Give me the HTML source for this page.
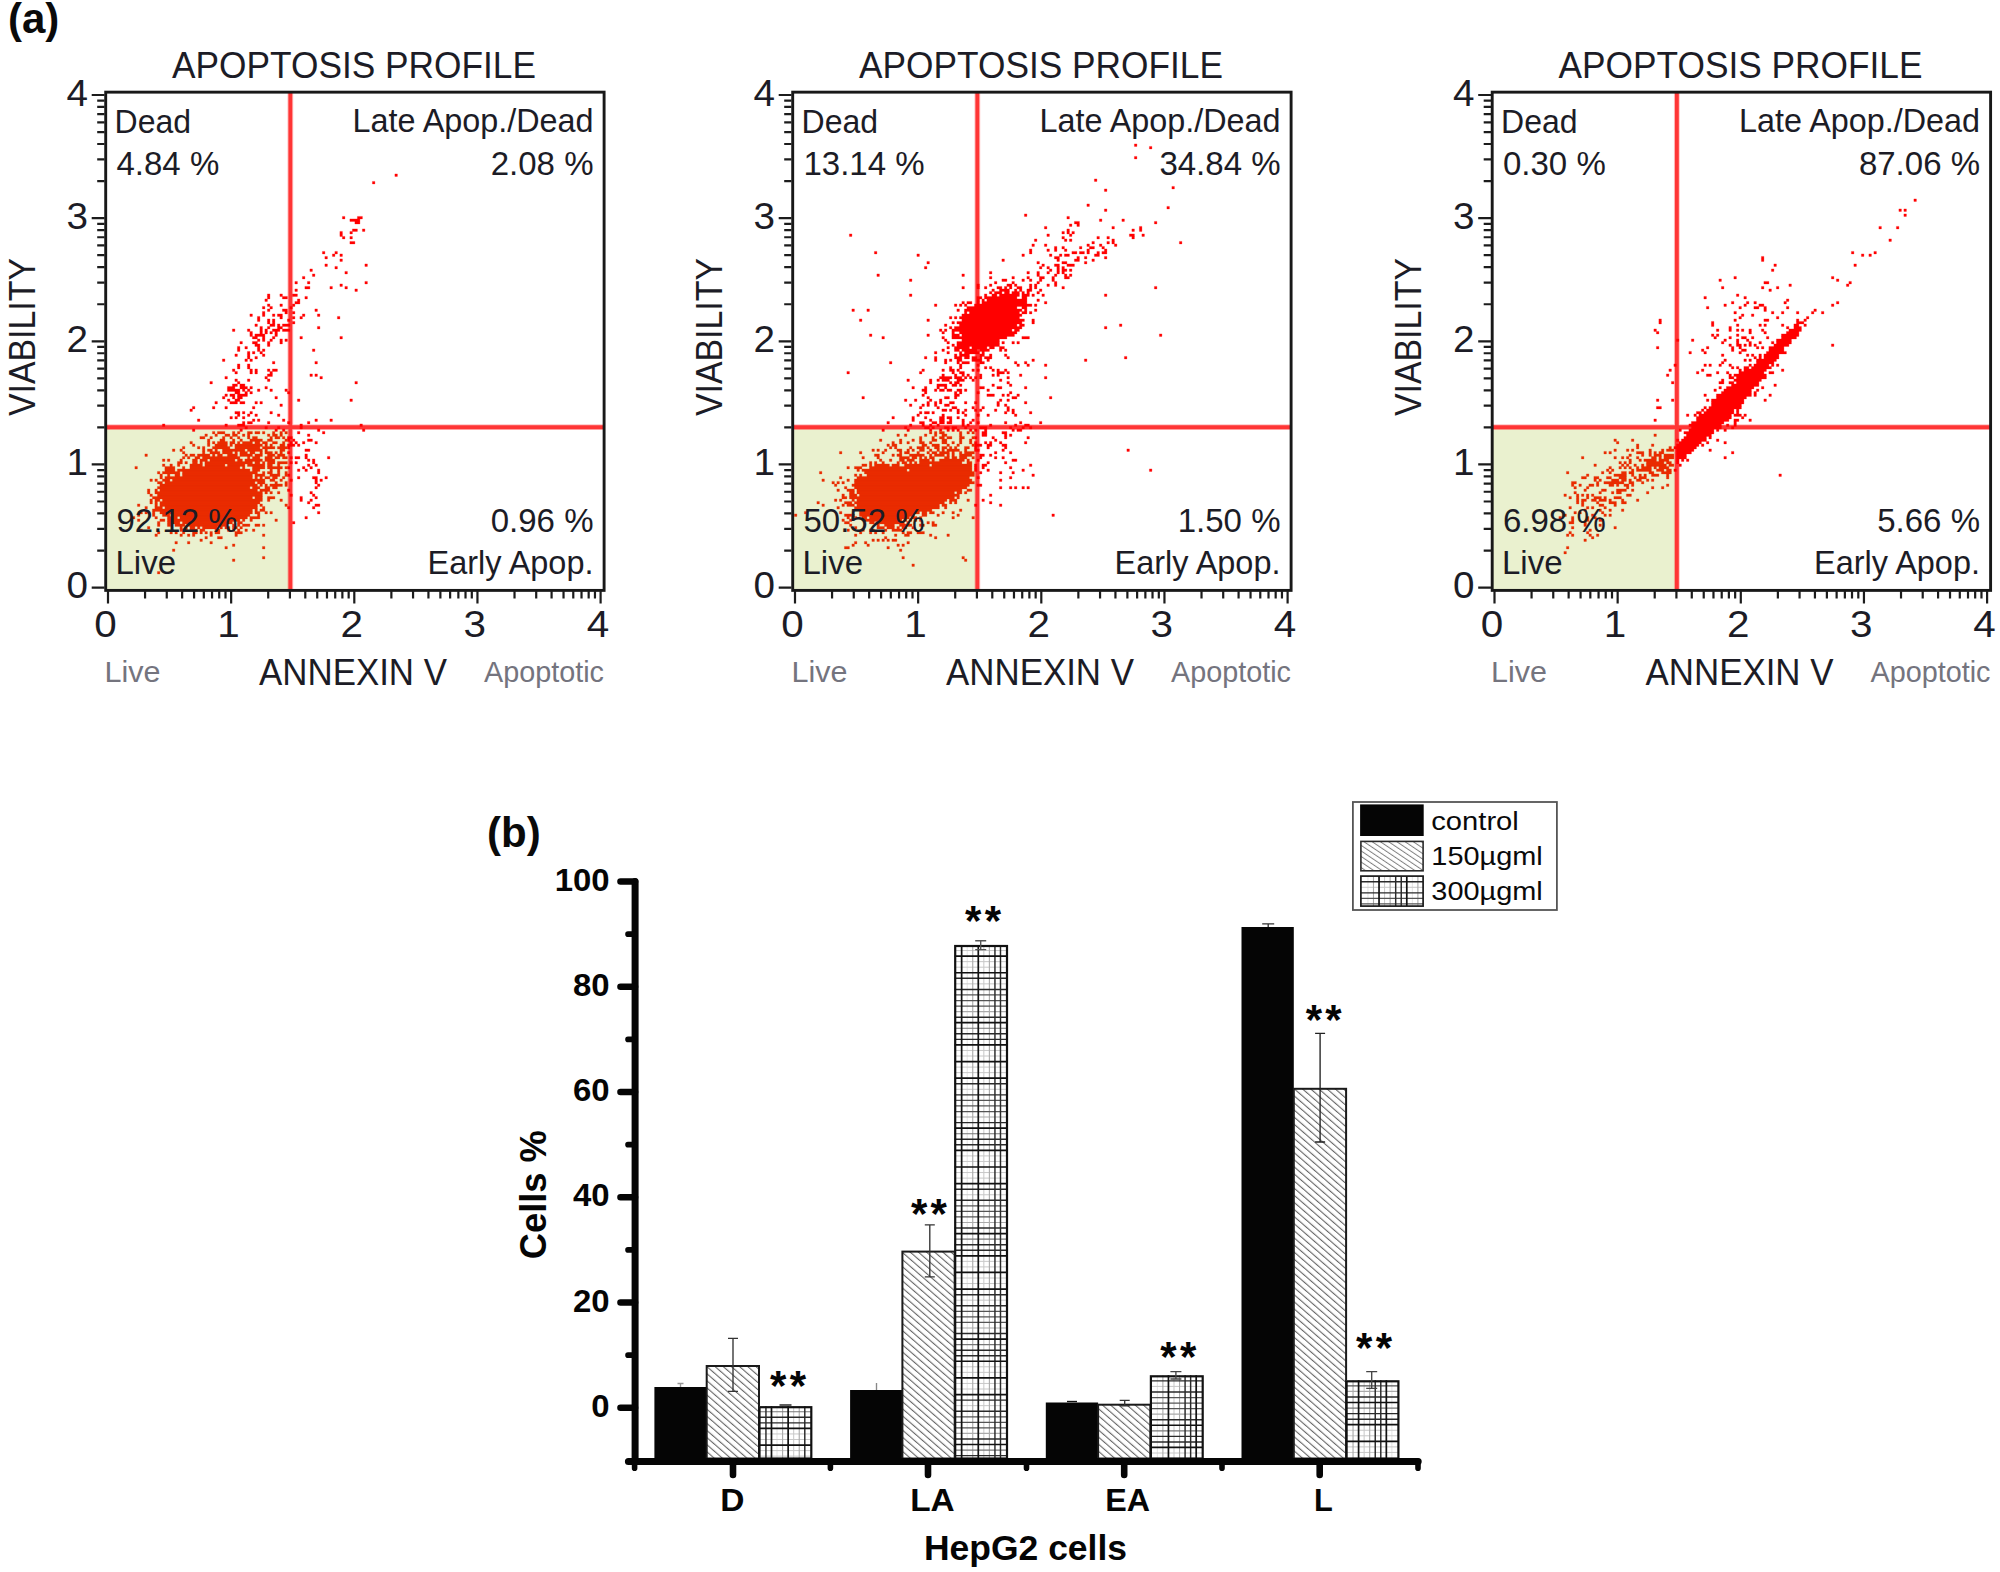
<!DOCTYPE html>
<html lang="en"><head><meta charset="utf-8"><title>Apoptosis profile of HepG2 cells</title>
<style>html,body{margin:0;padding:0;background:#fff}body{width:2000px;height:1572px;overflow:hidden}svg{display:block;font-family:'Liberation Sans', sans-serif}text{white-space:pre}</style></head><body>
<svg width="2000" height="1572" viewBox="0 0 2000 1572">
<rect width="2000" height="1572" fill="#fff"/>
<defs>
<pattern id="hat" width="5.36" height="40" patternUnits="userSpaceOnUse" patternTransform="rotate(-49)"><rect width="5.36" height="40" fill="#fff"/><rect x="0" width="1.1" height="40" fill="#666"/></pattern>
<pattern id="hatL" width="4.6" height="40" patternUnits="userSpaceOnUse" patternTransform="rotate(-56)"><rect width="4.6" height="40" fill="#fff"/><rect x="0" width="1.0" height="40" fill="#808080"/></pattern>
</defs>
<text x="8" y="32.8" font-size="42" fill="#0a0a0a" font-weight="bold">(a)</text>
<text x="487" y="847" font-size="42" fill="#0a0a0a" font-weight="bold">(b)</text>
<g transform="translate(0,0)">
<rect x="106" y="427.2" width="184.4" height="162.7" fill="#eaf1cf"/>
<path d="M290.35 93V590M106.5 427.2H603.5" stroke="#ff3535" stroke-width="5.8" stroke-opacity="0.3" fill="none"/>
<path d="M290.35 93V590M106.5 427.2H603.5" stroke="#ff3535" stroke-width="3.9" fill="none"/>
<path transform="translate(107.4,93.9) scale(2.5)" fill="#ff0000" stroke="#ff0000" stroke-width="0.12" stroke-linejoin="round" d="M115 32h1v1h-1zM106 35h1v1h-1zM94 49h1v1h-1zM100 49h2v1h-2zM97 50h4v1h-4zM99 51h2v1h-2zM98 54h2v1h-2zM102 54h1v1h-1zM93 55h1v1h-1zM97 55h1v1h-1zM93 56h1v1h-1zM94 57h1v1h-1zM97 57h1v1h-1zM97 59h2v1h-2zM86 63h1v1h-1zM91 63h1v1h-1zM90 64h1v1h-1zM93 64h1v1h-1zM87 65h1v1h-1zM93 66h1v1h-1zM87 68h1v1h-1zM103 68h1v1h-1zM91 69h1v1h-1zM81 70h1v1h-1zM95 71h1v1h-1zM82 72h1v1h-1zM78 73h1v1h-1zM75 75h1v1h-1zM80 75h1v1h-1zM103 75h1v1h-1zM93 76h1v1h-1zM79 77h2v1h-2zM89 77h1v1h-1zM95 77h1v1h-1zM75 78h1v1h-1zM99 78h1v1h-1zM64 80h1v1h-1zM69 80h1v1h-1zM74 80h2v1h-2zM64 81h1v1h-1zM70 81h2v1h-2zM79 81h1v1h-1zM63 82h1v1h-1zM76 82h1v1h-1zM75 83h2v1h-2zM64 84h1v1h-1zM69 84h1v1h-1zM74 84h1v1h-1zM62 85h1v1h-1zM65 85h1v1h-1zM73 85h1v1h-1zM64 86h1v1h-1zM70 86h2v1h-2zM83 86h1v1h-1zM62 87h1v1h-1zM71 87h1v1h-1zM74 87h1v1h-1zM57 88h1v1h-1zM62 88h1v1h-1zM66 88h1v1h-1zM68 88h2v1h-2zM78 88h1v1h-1zM84 88h1v1h-1zM60 89h1v1h-1zM69 89h1v1h-1zM74 89h1v1h-1zM77 89h1v1h-1zM92 89h1v1h-1zM60 90h1v1h-1zM64 90h1v1h-1zM66 90h1v1h-1zM72 90h1v1h-1zM64 91h1v1h-1zM66 91h1v1h-1zM74 91h1v1h-1zM59 92h1v1h-1zM65 92h2v1h-2zM68 92h1v1h-1zM70 92h3v1h-3zM61 93h1v1h-1zM64 93h1v1h-1zM68 93h2v1h-2zM84 93h1v1h-1zM50 94h1v1h-1zM56 94h1v1h-1zM61 94h1v1h-1zM63 94h1v1h-1zM66 94h3v1h-3zM70 94h3v1h-3zM57 95h1v1h-1zM61 95h1v1h-1zM63 95h1v1h-1zM65 95h1v1h-1zM67 95h1v1h-1zM57 96h1v1h-1zM59 96h4v1h-4zM67 96h1v1h-1zM58 97h2v1h-2zM62 97h1v1h-1zM66 97h1v1h-1zM77 97h1v1h-1zM93 97h1v1h-1zM60 98h1v1h-1zM62 98h1v1h-1zM65 98h1v1h-1zM69 98h1v1h-1zM71 98h1v1h-1zM53 99h1v1h-1zM58 99h2v1h-2zM64 99h1v1h-1zM69 99h1v1h-1zM59 100h2v1h-2zM64 100h1v1h-1zM52 101h1v1h-1zM55 101h1v1h-1zM60 101h1v1h-1zM52 102h1v1h-1zM60 102h1v1h-1zM62 102h1v1h-1zM82 102h1v1h-1zM56 103h1v1h-1zM58 103h1v1h-1zM61 103h1v1h-1zM51 104h1v1h-1zM56 104h1v1h-1zM62 104h1v1h-1zM56 105h1v1h-1zM59 105h1v1h-1zM46 106h1v1h-1zM55 106h1v1h-1zM57 106h1v1h-1zM66 107h1v1h-1zM83 107h1v1h-1zM52 108h1v1h-1zM56 108h1v1h-1zM52 109h1v1h-1zM56 109h1v1h-1zM50 110h1v1h-1zM57 110h1v1h-1zM59 110h1v1h-1zM64 110h1v1h-1zM66 110h2v1h-2zM51 111h1v1h-1zM57 111h1v1h-1zM59 111h1v1h-1zM65 111h1v1h-1zM64 112h2v1h-2zM81 112h1v1h-1zM83 112h1v1h-1zM47 113h1v1h-1zM63 113h1v1h-1zM85 113h1v1h-1zM51 114h1v1h-1zM56 114h1v1h-1zM64 114h1v1h-1zM41 115h1v1h-1zM52 115h1v1h-1zM99 115h1v1h-1zM50 116h2v1h-2zM53 116h2v1h-2zM48 117h3v1h-3zM53 117h3v1h-3zM57 117h1v1h-1zM63 117h1v1h-1zM48 118h5v1h-5zM54 118h1v1h-1zM56 118h1v1h-1zM60 118h1v1h-1zM65 118h1v1h-1zM71 118h1v1h-1zM51 119h2v1h-2zM55 119h1v1h-1zM57 119h1v1h-1zM72 119h1v1h-1zM47 120h1v1h-1zM49 120h2v1h-2zM52 120h4v1h-4zM46 121h1v1h-1zM50 121h1v1h-1zM52 121h2v1h-2zM67 121h1v1h-1zM48 122h1v1h-1zM51 122h2v1h-2zM76 122h1v1h-1zM97 122h1v1h-1zM43 123h1v1h-1zM49 123h3v1h-3zM53 123h2v1h-2zM59 123h1v1h-1zM61 123h1v1h-1zM69 124h1v1h-1zM34 125h1v1h-1zM42 125h1v1h-1zM47 125h1v1h-1zM58 125h1v1h-1zM33 126h1v1h-1zM51 127h2v1h-2zM54 127h1v1h-1zM57 127h1v1h-1zM65 127h1v1h-1zM52 128h1v1h-1zM56 128h1v1h-1zM59 128h1v1h-1zM68 128h1v1h-1zM49 129h1v1h-1zM51 129h1v1h-1zM54 129h1v1h-1zM36 130h1v1h-1zM58 130h1v1h-1zM60 130h1v1h-1zM70 130h1v1h-1zM83 130h1v1h-1zM89 130h1v1h-1zM54 131h1v1h-1zM56 131h2v1h-2zM64 131h1v1h-1zM72 131h1v1h-1zM80 131h1v1h-1zM22 132h1v1h-1zM47 132h1v1h-1zM52 132h3v1h-3zM77 132h1v1h-1zM101 132h1v1h-1zM55 133h1v1h-1zM63 133h1v1h-1zM68 133h1v1h-1zM77 133h1v1h-1zM34 134h1v1h-1zM53 134h1v1h-1zM67 134h1v1h-1zM70 134h1v1h-1zM84 134h1v1h-1zM102 134h1v1h-1zM76 135h1v1h-1zM86 135h1v1h-1zM80 136h1v1h-1zM72 137h2v1h-2zM72 138h1v1h-1zM74 138h1v1h-1zM80 138h2v1h-2zM73 139h1v1h-1zM75 139h1v1h-1zM78 139h1v1h-1zM83 139h1v1h-1zM72 140h3v1h-3zM76 140h1v1h-1zM72 141h1v1h-1zM79 142h2v1h-2zM72 143h1v1h-1zM79 144h1v1h-1zM73 145h1v1h-1zM75 145h2v1h-2zM79 145h1v1h-1zM88 145h1v1h-1zM80 146h1v1h-1zM82 146h1v1h-1zM73 147h1v1h-1zM75 147h1v1h-1zM82 147h1v1h-1zM80 148h1v1h-1zM83 148h1v1h-1zM72 149h1v1h-1zM78 149h1v1h-1zM81 149h1v1h-1zM76 150h1v1h-1zM79 150h1v1h-1zM84 150h1v1h-1zM84 151h1v1h-1zM72 152h1v1h-1zM76 153h1v1h-1zM82 153h2v1h-2zM87 153h1v1h-1zM73 154h1v1h-1zM83 154h1v1h-1zM85 154h1v1h-1zM83 155h1v1h-1zM84 156h1v1h-1zM83 157h1v1h-1zM72 158h1v1h-1zM81 159h1v1h-1zM73 160h1v1h-1zM82 160h1v1h-1zM77 161h1v1h-1zM83 161h1v1h-1zM77 162h1v1h-1zM81 162h1v1h-1zM80 163h1v1h-1zM83 164h2v1h-2zM72 165h1v1h-1zM82 165h1v1h-1zM84 167h1v1h-1zM79 169h1v1h-1zM74 171h1v1h-1z"/>
<path transform="translate(107.4,93.9) scale(2.5)" fill="#e92c00" stroke="#e92c00" stroke-width="0.12" stroke-linejoin="round" d="M42 135h1v1h-1zM44 135h3v1h-3zM50 135h1v1h-1zM52 135h1v1h-1zM56 135h2v1h-2zM59 135h2v1h-2zM62 135h1v1h-1zM66 135h1v1h-1zM69 135h1v1h-1zM71 135h1v1h-1zM39 136h1v1h-1zM43 136h1v1h-1zM47 136h2v1h-2zM50 136h2v1h-2zM54 136h1v1h-1zM56 136h1v1h-1zM64 136h1v1h-1zM66 136h2v1h-2zM69 136h1v1h-1zM37 137h2v1h-2zM41 137h1v1h-1zM46 137h1v1h-1zM49 137h1v1h-1zM52 137h1v1h-1zM56 137h1v1h-1zM58 137h2v1h-2zM65 137h1v1h-1zM67 137h2v1h-2zM70 137h1v1h-1zM40 138h1v1h-1zM45 138h2v1h-2zM50 138h1v1h-1zM53 138h1v1h-1zM57 138h5v1h-5zM64 138h2v1h-2zM71 138h1v1h-1zM33 139h1v1h-1zM40 139h1v1h-1zM42 139h1v1h-1zM44 139h4v1h-4zM49 139h2v1h-2zM52 139h1v1h-1zM54 139h4v1h-4zM59 139h2v1h-2zM62 139h2v1h-2zM66 139h2v1h-2zM70 139h1v1h-1zM34 140h1v1h-1zM40 140h1v1h-1zM43 140h5v1h-5zM49 140h1v1h-1zM51 140h11v1h-11zM63 140h1v1h-1zM65 140h1v1h-1zM69 140h2v1h-2zM30 141h1v1h-1zM36 141h1v1h-1zM38 141h1v1h-1zM42 141h7v1h-7zM51 141h10v1h-10zM62 141h5v1h-5zM68 141h4v1h-4zM26 142h1v1h-1zM29 142h1v1h-1zM38 142h1v1h-1zM40 142h2v1h-2zM43 142h1v1h-1zM46 142h9v1h-9zM56 142h6v1h-6zM63 142h1v1h-1zM69 142h2v1h-2zM30 143h1v1h-1zM38 143h1v1h-1zM41 143h4v1h-4zM46 143h4v1h-4zM51 143h1v1h-1zM53 143h3v1h-3zM57 143h2v1h-2zM61 143h1v1h-1zM63 143h3v1h-3zM67 143h1v1h-1zM69 143h1v1h-1zM15 144h1v1h-1zM31 144h1v1h-1zM33 144h2v1h-2zM36 144h5v1h-5zM42 144h1v1h-1zM44 144h2v1h-2zM48 144h4v1h-4zM53 144h5v1h-5zM59 144h3v1h-3zM64 144h3v1h-3zM68 144h3v1h-3zM30 145h1v1h-1zM32 145h1v1h-1zM35 145h2v1h-2zM38 145h15v1h-15zM56 145h1v1h-1zM58 145h3v1h-3zM63 145h3v1h-3zM67 145h2v1h-2zM70 145h2v1h-2zM22 146h1v1h-1zM24 146h1v1h-1zM29 146h1v1h-1zM34 146h2v1h-2zM37 146h3v1h-3zM41 146h10v1h-10zM52 146h2v1h-2zM55 146h7v1h-7zM63 146h4v1h-4zM28 147h2v1h-2zM31 147h1v1h-1zM34 147h2v1h-2zM37 147h1v1h-1zM39 147h19v1h-19zM59 147h2v1h-2zM62 147h1v1h-1zM64 147h3v1h-3zM68 147h4v1h-4zM22 148h1v1h-1zM25 148h1v1h-1zM28 148h1v1h-1zM33 148h5v1h-5zM39 148h8v1h-8zM48 148h7v1h-7zM56 148h7v1h-7zM64 148h2v1h-2zM68 148h1v1h-1zM11 149h1v1h-1zM23 149h4v1h-4zM30 149h1v1h-1zM33 149h20v1h-20zM54 149h1v1h-1zM58 149h5v1h-5zM64 149h6v1h-6zM71 149h1v1h-1zM23 150h4v1h-4zM28 150h29v1h-29zM58 150h3v1h-3zM65 150h1v1h-1zM68 150h1v1h-1zM20 151h1v1h-1zM22 151h7v1h-7zM30 151h30v1h-30zM62 151h1v1h-1zM64 151h2v1h-2zM68 151h1v1h-1zM71 151h1v1h-1zM21 152h1v1h-1zM24 152h1v1h-1zM27 152h2v1h-2zM30 152h28v1h-28zM59 152h4v1h-4zM65 152h4v1h-4zM71 152h1v1h-1zM21 153h1v1h-1zM23 153h35v1h-35zM59 153h1v1h-1zM61 153h1v1h-1zM63 153h2v1h-2zM66 153h2v1h-2zM70 153h1v1h-1zM17 154h1v1h-1zM19 154h1v1h-1zM22 154h3v1h-3zM26 154h37v1h-37zM65 154h2v1h-2zM69 154h1v1h-1zM20 155h2v1h-2zM23 155h36v1h-36zM60 155h3v1h-3zM67 155h1v1h-1zM71 155h1v1h-1zM21 156h39v1h-39zM61 156h1v1h-1zM63 156h1v1h-1zM65 156h5v1h-5zM71 156h1v1h-1zM20 157h37v1h-37zM58 157h3v1h-3zM63 157h2v1h-2zM66 157h2v1h-2zM16 158h1v1h-1zM19 158h1v1h-1zM21 158h39v1h-39zM61 158h4v1h-4zM16 159h1v1h-1zM19 159h43v1h-43zM63 159h1v1h-1zM65 159h1v1h-1zM68 159h1v1h-1zM17 160h1v1h-1zM20 160h42v1h-42zM18 161h40v1h-40zM59 161h3v1h-3zM64 161h3v1h-3zM17 162h1v1h-1zM19 162h2v1h-2zM22 162h40v1h-40zM64 162h1v1h-1zM69 162h1v1h-1zM17 163h1v1h-1zM19 163h1v1h-1zM21 163h40v1h-40zM12 164h1v1h-1zM19 164h1v1h-1zM21 164h39v1h-39zM61 164h1v1h-1zM71 164h1v1h-1zM15 165h1v1h-1zM19 165h3v1h-3zM23 165h37v1h-37zM62 165h1v1h-1zM18 166h40v1h-40zM59 166h1v1h-1zM61 166h2v1h-2zM13 167h1v1h-1zM15 167h1v1h-1zM18 167h1v1h-1zM21 167h37v1h-37zM59 167h2v1h-2zM63 167h1v1h-1zM65 167h1v1h-1zM12 168h1v1h-1zM18 168h1v1h-1zM22 168h3v1h-3zM26 168h31v1h-31zM60 168h1v1h-1zM10 169h1v1h-1zM19 169h1v1h-1zM24 169h4v1h-4zM29 169h27v1h-27zM57 169h4v1h-4zM12 170h1v1h-1zM21 170h2v1h-2zM24 170h29v1h-29zM54 170h1v1h-1zM57 170h1v1h-1zM67 170h1v1h-1zM20 171h1v1h-1zM24 171h5v1h-5zM30 171h20v1h-20zM52 171h2v1h-2zM20 172h1v1h-1zM24 172h2v1h-2zM27 172h4v1h-4zM32 172h16v1h-16zM50 172h1v1h-1zM52 172h1v1h-1zM54 172h3v1h-3zM59 172h2v1h-2zM62 172h1v1h-1zM16 173h1v1h-1zM29 173h1v1h-1zM31 173h1v1h-1zM33 173h2v1h-2zM36 173h1v1h-1zM38 173h6v1h-6zM45 173h1v1h-1zM47 173h2v1h-2zM50 173h2v1h-2zM53 173h1v1h-1zM13 174h1v1h-1zM29 174h3v1h-3zM33 174h3v1h-3zM37 174h2v1h-2zM43 174h2v1h-2zM48 174h1v1h-1zM50 174h1v1h-1zM52 174h1v1h-1zM55 174h1v1h-1zM58 174h1v1h-1zM20 175h1v1h-1zM25 175h1v1h-1zM27 175h1v1h-1zM30 175h1v1h-1zM34 175h2v1h-2zM37 175h1v1h-1zM39 175h1v1h-1zM41 175h1v1h-1zM43 175h2v1h-2zM51 175h3v1h-3zM19 176h1v1h-1zM29 176h1v1h-1zM32 176h1v1h-1zM34 176h1v1h-1zM41 176h1v1h-1zM51 176h1v1h-1zM62 176h1v1h-1zM39 177h1v1h-1zM44 177h2v1h-2zM37 178h1v1h-1zM27 179h1v1h-1zM32 179h1v1h-1zM41 179h1v1h-1zM50 180h1v1h-1zM47 181h1v1h-1zM62 181h1v1h-1zM26 182h1v1h-1zM62 185h1v1h-1zM50 186h1v1h-1zM20 191h1v1h-1z"/>
<rect x="105.7" y="92.15" width="498.4" height="498.25" fill="none" stroke="#181818" stroke-width="2.9"/>
<path d="M108 591v12.6M104.5 587.6h-12.8M145.07 591v7.6M104.5 550.53h-7.3M166.76 591v7.6M104.5 528.84h-7.3M182.14 591v7.6M104.5 513.46h-7.3M194.08 591v7.6M104.5 501.52h-7.3M203.83 591v7.6M104.5 491.77h-7.3M212.07 591v7.6M104.5 483.53h-7.3M219.22 591v7.6M104.5 476.38h-7.3M225.51 591v7.6M104.5 470.09h-7.3M231.15 591v12.6M104.5 464.45h-12.8M268.22 591v7.6M104.5 427.38h-7.3M289.91 591v7.6M104.5 405.69h-7.3M305.29 591v7.6M104.5 390.31h-7.3M317.23 591v7.6M104.5 378.37h-7.3M326.98 591v7.6M104.5 368.62h-7.3M335.22 591v7.6M104.5 360.38h-7.3M342.37 591v7.6M104.5 353.23h-7.3M348.66 591v7.6M104.5 346.94h-7.3M354.3 591v12.6M104.5 341.3h-12.8M391.37 591v7.6M104.5 304.23h-7.3M413.06 591v7.6M104.5 282.54h-7.3M428.44 591v7.6M104.5 267.16h-7.3M440.38 591v7.6M104.5 255.22h-7.3M450.13 591v7.6M104.5 245.47h-7.3M458.37 591v7.6M104.5 237.23h-7.3M465.52 591v7.6M104.5 230.08h-7.3M471.81 591v7.6M104.5 223.79h-7.3M477.45 591v12.6M104.5 218.15h-12.8M514.52 591v7.6M104.5 181.08h-7.3M536.21 591v7.6M104.5 159.39h-7.3M551.59 591v7.6M104.5 144.01h-7.3M563.53 591v7.6M104.5 132.07h-7.3M573.28 591v7.6M104.5 122.32h-7.3M581.52 591v7.6M104.5 114.08h-7.3M588.67 591v7.6M104.5 106.93h-7.3M594.96 591v7.6M104.5 100.64h-7.3M600.6 591v12.6M104.5 95h-12.8" stroke="#1c1c1c" stroke-width="2.2" fill="none"/>
<text x="105.4" y="637.4" font-size="36" fill="#1c1c26" text-anchor="middle" textLength="22.5" lengthAdjust="spacingAndGlyphs">0</text>
<text x="88" y="598.2" font-size="36" fill="#1c1c26" text-anchor="end" textLength="21.5" lengthAdjust="spacingAndGlyphs">0</text>
<text x="228.55" y="637.4" font-size="36" fill="#1c1c26" text-anchor="middle" textLength="22.5" lengthAdjust="spacingAndGlyphs">1</text>
<text x="88" y="475.05" font-size="36" fill="#1c1c26" text-anchor="end" textLength="21.5" lengthAdjust="spacingAndGlyphs">1</text>
<text x="351.7" y="637.4" font-size="36" fill="#1c1c26" text-anchor="middle" textLength="22.5" lengthAdjust="spacingAndGlyphs">2</text>
<text x="88" y="351.9" font-size="36" fill="#1c1c26" text-anchor="end" textLength="21.5" lengthAdjust="spacingAndGlyphs">2</text>
<text x="474.85" y="637.4" font-size="36" fill="#1c1c26" text-anchor="middle" textLength="22.5" lengthAdjust="spacingAndGlyphs">3</text>
<text x="88" y="228.75" font-size="36" fill="#1c1c26" text-anchor="end" textLength="21.5" lengthAdjust="spacingAndGlyphs">3</text>
<text x="598" y="637.4" font-size="36" fill="#1c1c26" text-anchor="middle" textLength="22.5" lengthAdjust="spacingAndGlyphs">4</text>
<text x="88" y="105.6" font-size="36" fill="#1c1c26" text-anchor="end" textLength="21.5" lengthAdjust="spacingAndGlyphs">4</text>
<text x="172" y="78" font-size="36" fill="#1c1c26" textLength="364" lengthAdjust="spacingAndGlyphs">APOPTOSIS PROFILE</text>
<text x="114.6" y="132.5" font-size="33" fill="#1c1c26" textLength="76.5" lengthAdjust="spacingAndGlyphs">Dead</text>
<text x="116.5" y="174.8" font-size="33" fill="#1c1c26">4.84 %</text>
<text x="593.5" y="132.4" font-size="33" fill="#1c1c26" text-anchor="end" textLength="241" lengthAdjust="spacingAndGlyphs">Late Apop./Dead</text>
<text x="593.5" y="174.8" font-size="33" fill="#1c1c26" text-anchor="end">2.08 %</text>
<text x="116.5" y="531.6" font-size="33" fill="#1c1c26">92.12 %</text>
<text x="115.5" y="573.7" font-size="33" fill="#1c1c26">Live</text>
<text x="593.5" y="531.6" font-size="33" fill="#1c1c26" text-anchor="end">0.96 %</text>
<text x="593.5" y="573.7" font-size="33" fill="#1c1c26" text-anchor="end" textLength="166" lengthAdjust="spacingAndGlyphs">Early Apop.</text>
<text x="259" y="685" font-size="36" fill="#1c1c26" textLength="188" lengthAdjust="spacingAndGlyphs">ANNEXIN V</text>
<text x="104.5" y="682.4" font-size="29.5" fill="#74747e" textLength="56" lengthAdjust="spacingAndGlyphs">Live</text>
<text x="484" y="682.4" font-size="29.5" fill="#74747e" textLength="120" lengthAdjust="spacingAndGlyphs">Apoptotic</text>
<text transform="translate(34.6,337) rotate(-90)" font-size="36" fill="#1c1c26" text-anchor="middle" textLength="158" lengthAdjust="spacingAndGlyphs">VIABILITY</text>
</g>
<g transform="translate(687,0)">
<rect x="106" y="427.2" width="184.4" height="162.7" fill="#eaf1cf"/>
<path d="M290.35 93V590M106.5 427.2H603.5" stroke="#ff3535" stroke-width="5.8" stroke-opacity="0.3" fill="none"/>
<path d="M290.35 93V590M106.5 427.2H603.5" stroke="#ff3535" stroke-width="3.9" fill="none"/>
<path transform="translate(107.4,93.9) scale(2.5)" fill="#ff0000" stroke="#ff0000" stroke-width="0.12" stroke-linejoin="round" d="M136 20h1v1h-1zM142 21h1v1h-1zM136 25h1v1h-1zM120 34h1v1h-1zM151 37h1v1h-1zM124 38h1v1h-1zM117 44h1v1h-1zM149 45h1v1h-1zM124 46h1v1h-1zM92 48h1v1h-1zM109 49h1v1h-1zM122 50h1v1h-1zM131 50h1v1h-1zM112 51h2v1h-2zM144 51h1v1h-1zM110 52h1v1h-1zM113 52h1v1h-1zM100 53h1v1h-1zM127 53h1v1h-1zM138 53h1v1h-1zM109 54h1v1h-1zM135 54h1v1h-1zM138 54h1v1h-1zM107 55h1v1h-1zM109 55h1v1h-1zM111 55h1v1h-1zM22 56h1v1h-1zM101 56h1v1h-1zM110 56h1v1h-1zM134 56h2v1h-2zM139 56h1v1h-1zM107 57h1v1h-1zM121 57h1v1h-1zM125 57h1v1h-1zM135 57h1v1h-1zM96 58h1v1h-1zM108 58h1v1h-1zM110 58h1v1h-1zM127 58h1v1h-1zM119 59h1v1h-1zM125 59h1v1h-1zM127 59h1v1h-1zM154 59h1v1h-1zM95 60h1v1h-1zM100 60h1v1h-1zM117 60h1v1h-1zM122 60h1v1h-1zM128 60h1v1h-1zM104 61h1v1h-1zM107 61h1v1h-1zM114 61h1v1h-1zM118 61h2v1h-2zM123 61h1v1h-1zM94 62h1v1h-1zM101 62h1v1h-1zM104 62h1v1h-1zM108 62h1v1h-1zM117 62h1v1h-1zM124 62h1v1h-1zM32 63h1v1h-1zM94 63h1v1h-1zM111 63h2v1h-2zM114 63h2v1h-2zM117 63h1v1h-1zM121 63h1v1h-1zM123 63h2v1h-2zM49 64h1v1h-1zM91 64h1v1h-1zM102 64h1v1h-1zM106 64h1v1h-1zM108 64h2v1h-2zM120 64h2v1h-2zM104 65h2v1h-2zM113 65h1v1h-1zM116 65h1v1h-1zM124 65h1v1h-1zM83 66h1v1h-1zM105 66h1v1h-1zM112 66h2v1h-2zM119 66h1v1h-1zM53 67h1v1h-1zM97 67h1v1h-1zM107 67h2v1h-2zM116 67h1v1h-1zM99 68h1v1h-1zM104 68h2v1h-2zM109 68h3v1h-3zM52 69h1v1h-1zM98 69h1v1h-1zM101 69h1v1h-1zM105 69h1v1h-1zM107 69h1v1h-1zM102 70h1v1h-1zM105 70h1v1h-1zM107 70h2v1h-2zM110 70h1v1h-1zM78 71h1v1h-1zM93 71h1v1h-1zM97 71h1v1h-1zM101 71h1v1h-1zM105 71h1v1h-1zM107 71h1v1h-1zM33 72h1v1h-1zM67 72h1v1h-1zM97 72h1v1h-1zM104 72h1v1h-1zM108 72h1v1h-1zM110 72h1v1h-1zM78 73h1v1h-1zM87 73h1v1h-1zM93 73h1v1h-1zM98 73h2v1h-2zM103 73h1v1h-1zM108 73h2v1h-2zM46 74h1v1h-1zM83 74h2v1h-2zM91 74h1v1h-1zM94 74h1v1h-1zM98 74h1v1h-1zM103 74h1v1h-1zM80 75h1v1h-1zM87 75h1v1h-1zM97 75h1v1h-1zM104 75h1v1h-1zM73 76h1v1h-1zM78 76h1v1h-1zM85 76h2v1h-2zM88 76h1v1h-1zM94 76h1v1h-1zM96 76h1v1h-1zM101 76h1v1h-1zM104 76h1v1h-1zM67 77h1v1h-1zM73 77h1v1h-1zM76 77h1v1h-1zM81 77h2v1h-2zM84 77h1v1h-1zM86 77h1v1h-1zM89 77h2v1h-2zM94 77h1v1h-1zM96 77h1v1h-1zM107 77h1v1h-1zM144 77h1v1h-1zM79 78h1v1h-1zM82 78h4v1h-4zM88 78h1v1h-1zM90 78h1v1h-1zM93 78h2v1h-2zM98 78h1v1h-1zM78 79h1v1h-1zM80 79h3v1h-3zM84 79h2v1h-2zM87 79h3v1h-3zM91 79h1v1h-1zM93 79h1v1h-1zM97 79h1v1h-1zM46 80h1v1h-1zM76 80h1v1h-1zM79 80h2v1h-2zM82 80h8v1h-8zM91 80h3v1h-3zM95 80h1v1h-1zM99 80h1v1h-1zM124 80h1v1h-1zM73 81h2v1h-2zM76 81h13v1h-13zM91 81h2v1h-2zM73 82h1v1h-1zM75 82h1v1h-1zM77 82h16v1h-16zM97 82h1v1h-1zM67 83h1v1h-1zM69 83h2v1h-2zM73 83h1v1h-1zM75 83h18v1h-18zM100 83h1v1h-1zM56 84h1v1h-1zM64 84h1v1h-1zM66 84h1v1h-1zM68 84h1v1h-1zM72 84h23v1h-23zM96 84h1v1h-1zM69 85h20v1h-20zM91 85h2v1h-2zM23 86h1v1h-1zM29 86h1v1h-1zM65 86h1v1h-1zM68 86h23v1h-23zM92 86h1v1h-1zM96 86h1v1h-1zM68 87h1v1h-1zM70 87h20v1h-20zM91 87h2v1h-2zM94 87h1v1h-1zM67 88h24v1h-24zM62 89h1v1h-1zM64 89h1v1h-1zM66 89h24v1h-24zM26 90h1v1h-1zM53 90h1v1h-1zM67 90h25v1h-25zM95 90h1v1h-1zM63 91h1v1h-1zM65 91h26v1h-26zM95 91h1v1h-1zM60 92h1v1h-1zM66 92h23v1h-23zM90 92h2v1h-2zM130 92h1v1h-1zM62 93h1v1h-1zM64 93h27v1h-27zM124 93h1v1h-1zM58 94h1v1h-1zM60 94h1v1h-1zM63 94h24v1h-24zM88 94h2v1h-2zM59 95h1v1h-1zM63 95h1v1h-1zM66 95h23v1h-23zM30 96h1v1h-1zM53 96h1v1h-1zM63 96h3v1h-3zM67 96h21v1h-21zM146 96h1v1h-1zM35 97h1v1h-1zM59 97h1v1h-1zM63 97h22v1h-22zM91 97h3v1h-3zM60 98h1v1h-1zM67 98h15v1h-15zM61 99h1v1h-1zM65 99h17v1h-17zM83 99h1v1h-1zM87 99h1v1h-1zM89 99h1v1h-1zM63 100h1v1h-1zM65 100h17v1h-17zM61 101h1v1h-1zM64 101h6v1h-6zM71 101h6v1h-6zM78 101h2v1h-2zM82 101h2v1h-2zM59 102h1v1h-1zM64 102h2v1h-2zM67 102h6v1h-6zM74 102h4v1h-4zM82 102h1v1h-1zM84 102h1v1h-1zM56 103h1v1h-1zM61 103h1v1h-1zM66 103h1v1h-1zM68 103h6v1h-6zM75 103h1v1h-1zM64 104h1v1h-1zM66 104h4v1h-4zM74 104h2v1h-2zM78 104h1v1h-1zM84 104h1v1h-1zM52 105h1v1h-1zM56 105h1v1h-1zM64 105h3v1h-3zM68 105h2v1h-2zM71 105h2v1h-2zM74 105h1v1h-1zM76 105h3v1h-3zM85 105h1v1h-1zM132 105h1v1h-1zM56 106h1v1h-1zM60 106h1v1h-1zM62 106h1v1h-1zM65 106h2v1h-2zM71 106h4v1h-4zM77 106h1v1h-1zM95 106h1v1h-1zM116 106h1v1h-1zM38 107h1v1h-1zM60 107h1v1h-1zM65 107h1v1h-1zM67 107h3v1h-3zM74 107h2v1h-2zM88 107h1v1h-1zM92 107h1v1h-1zM66 108h1v1h-1zM73 108h1v1h-1zM89 108h1v1h-1zM93 108h1v1h-1zM100 108h1v1h-1zM62 109h1v1h-1zM66 109h1v1h-1zM76 109h1v1h-1zM78 109h1v1h-1zM51 110h1v1h-1zM59 110h1v1h-1zM62 110h2v1h-2zM65 110h1v1h-1zM71 110h1v1h-1zM73 110h1v1h-1zM79 110h1v1h-1zM81 110h1v1h-1zM84 110h1v1h-1zM21 111h1v1h-1zM50 111h1v1h-1zM63 111h1v1h-1zM66 111h2v1h-2zM81 111h3v1h-3zM85 111h1v1h-1zM59 112h1v1h-1zM64 112h1v1h-1zM67 112h1v1h-1zM69 112h1v1h-1zM74 112h1v1h-1zM79 112h1v1h-1zM81 112h1v1h-1zM90 112h1v1h-1zM58 113h5v1h-5zM64 113h3v1h-3zM68 113h1v1h-1zM70 113h1v1h-1zM72 113h1v1h-1zM74 113h1v1h-1zM85 113h1v1h-1zM100 113h1v1h-1zM45 114h1v1h-1zM54 114h1v1h-1zM57 114h1v1h-1zM59 114h3v1h-3zM65 114h3v1h-3zM71 114h1v1h-1zM82 114h1v1h-1zM54 115h1v1h-1zM62 115h1v1h-1zM64 115h2v1h-2zM85 115h1v1h-1zM57 116h4v1h-4zM63 116h2v1h-2zM66 116h1v1h-1zM79 116h1v1h-1zM86 116h1v1h-1zM47 117h1v1h-1zM52 117h1v1h-1zM57 117h1v1h-1zM60 117h1v1h-1zM74 117h2v1h-2zM81 117h2v1h-2zM92 117h1v1h-1zM51 118h2v1h-2zM56 118h1v1h-1zM58 118h2v1h-2zM61 118h2v1h-2zM65 118h2v1h-2zM68 118h1v1h-1zM77 118h1v1h-1zM52 119h1v1h-1zM64 119h1v1h-1zM66 119h1v1h-1zM73 119h1v1h-1zM86 119h1v1h-1zM51 120h1v1h-1zM64 120h2v1h-2zM77 120h3v1h-3zM83 120h1v1h-1zM85 120h1v1h-1zM89 120h1v1h-1zM27 121h1v1h-1zM53 121h1v1h-1zM60 121h2v1h-2zM64 121h1v1h-1zM87 121h2v1h-2zM102 121h1v1h-1zM44 122h1v1h-1zM48 122h1v1h-1zM54 122h1v1h-1zM58 122h1v1h-1zM82 122h1v1h-1zM85 122h1v1h-1zM53 123h1v1h-1zM56 123h1v1h-1zM58 123h1v1h-1zM62 123h2v1h-2zM68 123h1v1h-1zM72 123h1v1h-1zM81 123h1v1h-1zM92 123h1v1h-1zM46 124h1v1h-1zM51 124h1v1h-1zM53 124h1v1h-1zM56 124h1v1h-1zM60 124h2v1h-2zM81 124h1v1h-1zM84 124h1v1h-1zM50 125h1v1h-1zM57 125h1v1h-1zM63 125h2v1h-2zM71 125h1v1h-1zM75 125h1v1h-1zM85 125h1v1h-1zM59 126h2v1h-2zM62 126h1v1h-1zM65 126h1v1h-1zM68 126h1v1h-1zM72 126h1v1h-1zM74 126h1v1h-1zM80 126h1v1h-1zM85 126h1v1h-1zM87 126h1v1h-1zM50 127h1v1h-1zM52 127h2v1h-2zM55 127h1v1h-1zM65 127h1v1h-1zM67 127h1v1h-1zM84 127h1v1h-1zM87 127h1v1h-1zM94 127h1v1h-1zM49 128h1v1h-1zM59 128h1v1h-1zM68 128h1v1h-1zM73 128h1v1h-1zM77 128h1v1h-1zM88 128h1v1h-1zM39 129h1v1h-1zM47 129h1v1h-1zM52 129h1v1h-1zM58 129h2v1h-2zM61 129h2v1h-2zM65 129h1v1h-1zM47 130h1v1h-1zM54 130h1v1h-1zM58 130h2v1h-2zM62 130h1v1h-1zM67 130h1v1h-1zM71 130h1v1h-1zM37 131h1v1h-1zM50 131h2v1h-2zM55 131h2v1h-2zM58 131h2v1h-2zM61 131h2v1h-2zM67 131h1v1h-1zM70 131h1v1h-1zM73 131h1v1h-1zM84 131h1v1h-1zM90 131h1v1h-1zM98 131h1v1h-1zM46 132h1v1h-1zM51 132h1v1h-1zM54 132h1v1h-1zM57 132h1v1h-1zM67 132h1v1h-1zM69 132h1v1h-1zM78 132h1v1h-1zM88 132h1v1h-1zM92 132h2v1h-2zM44 133h1v1h-1zM52 133h2v1h-2zM55 133h1v1h-1zM60 133h2v1h-2zM63 133h2v1h-2zM68 133h1v1h-1zM74 133h3v1h-3zM86 133h1v1h-1zM91 133h1v1h-1zM94 133h1v1h-1zM35 134h1v1h-1zM45 134h1v1h-1zM54 134h1v1h-1zM58 134h1v1h-1zM61 134h1v1h-1zM63 134h1v1h-1zM65 134h1v1h-1zM70 134h1v1h-1zM72 134h1v1h-1zM76 134h1v1h-1zM87 134h1v1h-1zM89 134h2v1h-2zM75 135h2v1h-2zM83 135h2v1h-2zM75 136h2v1h-2zM84 136h1v1h-1zM86 136h1v1h-1zM72 137h1v1h-1zM79 137h1v1h-1zM84 137h1v1h-1zM93 137h1v1h-1zM80 138h1v1h-1zM72 139h1v1h-1zM76 139h1v1h-1zM78 139h1v1h-1zM82 139h1v1h-1zM92 139h1v1h-1zM72 140h3v1h-3zM77 140h2v1h-2zM83 140h2v1h-2zM72 141h1v1h-1zM77 141h1v1h-1zM84 141h1v1h-1zM72 142h2v1h-2zM83 142h1v1h-1zM133 142h1v1h-1zM80 143h1v1h-1zM86 143h1v1h-1zM74 144h2v1h-2zM78 144h1v1h-1zM74 145h1v1h-1zM80 145h1v1h-1zM83 145h1v1h-1zM73 146h1v1h-1zM87 146h2v1h-2zM77 147h1v1h-1zM84 147h1v1h-1zM72 148h1v1h-1zM75 148h2v1h-2zM94 148h1v1h-1zM72 149h1v1h-1zM75 149h1v1h-1zM86 149h1v1h-1zM72 150h1v1h-1zM77 150h1v1h-1zM91 150h1v1h-1zM142 150h1v1h-1zM74 151h1v1h-1zM82 151h1v1h-1zM87 151h1v1h-1zM95 152h1v1h-1zM73 153h1v1h-1zM86 153h1v1h-1zM82 154h1v1h-1zM73 156h2v1h-2zM82 157h1v1h-1zM86 157h1v1h-1zM88 157h1v1h-1zM91 157h1v1h-1zM93 157h1v1h-1zM78 160h1v1h-1zM75 162h1v1h-1zM78 163h1v1h-1zM72 164h1v1h-1zM82 164h1v1h-1zM103 168h1v1h-1z"/>
<path transform="translate(107.4,93.9) scale(2.5)" fill="#e92c00" stroke="#e92c00" stroke-width="0.12" stroke-linejoin="round" d="M54 135h1v1h-1zM56 135h1v1h-1zM58 135h2v1h-2zM66 135h1v1h-1zM69 135h1v1h-1zM71 135h1v1h-1zM41 136h1v1h-1zM44 136h1v1h-1zM52 136h1v1h-1zM56 136h1v1h-1zM59 136h2v1h-2zM66 136h1v1h-1zM50 137h1v1h-1zM55 137h1v1h-1zM58 137h2v1h-2zM61 137h2v1h-2zM66 137h2v1h-2zM71 137h1v1h-1zM34 138h1v1h-1zM42 138h1v1h-1zM47 138h1v1h-1zM50 138h1v1h-1zM55 138h2v1h-2zM59 138h2v1h-2zM66 138h1v1h-1zM70 138h1v1h-1zM39 139h1v1h-1zM42 139h1v1h-1zM45 139h1v1h-1zM50 139h2v1h-2zM54 139h1v1h-1zM59 139h2v1h-2zM63 139h1v1h-1zM66 139h1v1h-1zM70 139h1v1h-1zM37 140h1v1h-1zM39 140h2v1h-2zM51 140h2v1h-2zM55 140h3v1h-3zM61 140h1v1h-1zM65 140h1v1h-1zM71 140h1v1h-1zM38 141h1v1h-1zM40 141h1v1h-1zM46 141h1v1h-1zM49 141h3v1h-3zM53 141h1v1h-1zM56 141h2v1h-2zM59 141h2v1h-2zM62 141h1v1h-1zM64 141h1v1h-1zM68 141h2v1h-2zM31 142h1v1h-1zM33 142h1v1h-1zM36 142h1v1h-1zM41 142h2v1h-2zM45 142h1v1h-1zM47 142h1v1h-1zM50 142h2v1h-2zM54 142h1v1h-1zM57 142h1v1h-1zM59 142h1v1h-1zM61 142h5v1h-5zM68 142h1v1h-1zM18 143h1v1h-1zM26 143h1v1h-1zM35 143h1v1h-1zM42 143h1v1h-1zM44 143h2v1h-2zM49 143h1v1h-1zM53 143h1v1h-1zM55 143h2v1h-2zM58 143h4v1h-4zM63 143h1v1h-1zM66 143h1v1h-1zM68 143h4v1h-4zM32 144h2v1h-2zM39 144h1v1h-1zM41 144h2v1h-2zM46 144h6v1h-6zM54 144h1v1h-1zM56 144h4v1h-4zM61 144h1v1h-1zM63 144h1v1h-1zM66 144h5v1h-5zM27 145h1v1h-1zM33 145h1v1h-1zM42 145h4v1h-4zM47 145h2v1h-2zM50 145h1v1h-1zM52 145h1v1h-1zM54 145h2v1h-2zM60 145h2v1h-2zM63 145h2v1h-2zM66 145h3v1h-3zM71 145h1v1h-1zM34 146h1v1h-1zM38 146h1v1h-1zM42 146h2v1h-2zM45 146h3v1h-3zM50 146h4v1h-4zM55 146h1v1h-1zM58 146h10v1h-10zM69 146h1v1h-1zM30 147h1v1h-1zM32 147h1v1h-1zM35 147h1v1h-1zM41 147h1v1h-1zM43 147h2v1h-2zM46 147h1v1h-1zM48 147h1v1h-1zM50 147h17v1h-17zM69 147h2v1h-2zM27 148h2v1h-2zM30 148h1v1h-1zM32 148h6v1h-6zM39 148h3v1h-3zM44 148h10v1h-10zM55 148h16v1h-16zM21 149h1v1h-1zM24 149h3v1h-3zM30 149h41v1h-41zM25 150h1v1h-1zM27 150h18v1h-18zM46 150h25v1h-25zM10 151h1v1h-1zM28 151h44v1h-44zM24 152h1v1h-1zM26 152h1v1h-1zM29 152h43v1h-43zM18 153h1v1h-1zM25 153h45v1h-45zM11 154h1v1h-1zM21 154h1v1h-1zM24 154h47v1h-47zM15 155h1v1h-1zM17 155h1v1h-1zM19 155h1v1h-1zM24 155h48v1h-48zM16 156h1v1h-1zM23 156h47v1h-47zM20 157h1v1h-1zM24 157h45v1h-45zM17 158h1v1h-1zM21 158h3v1h-3zM25 158h42v1h-42zM69 158h2v1h-2zM22 159h2v1h-2zM25 159h39v1h-39zM65 159h2v1h-2zM68 159h1v1h-1zM19 160h1v1h-1zM22 160h3v1h-3zM26 160h40v1h-40zM19 161h2v1h-2zM22 161h42v1h-42zM65 161h1v1h-1zM16 162h1v1h-1zM18 162h1v1h-1zM23 162h1v1h-1zM25 162h36v1h-36zM62 162h3v1h-3zM69 162h1v1h-1zM9 163h1v1h-1zM20 163h3v1h-3zM24 163h36v1h-36zM62 163h1v1h-1zM64 163h1v1h-1zM11 164h1v1h-1zM19 164h1v1h-1zM21 164h3v1h-3zM25 164h33v1h-33zM59 164h2v1h-2zM17 165h1v1h-1zM24 165h34v1h-34zM60 165h1v1h-1zM26 166h29v1h-29zM66 166h1v1h-1zM4 167h1v1h-1zM18 167h1v1h-1zM26 167h24v1h-24zM51 167h2v1h-2zM54 167h2v1h-2zM59 167h1v1h-1zM63 167h1v1h-1zM0 168h1v1h-1zM20 168h4v1h-4zM26 168h22v1h-22zM51 168h2v1h-2zM57 168h1v1h-1zM65 168h1v1h-1zM21 169h1v1h-1zM24 169h1v1h-1zM27 169h2v1h-2zM30 169h16v1h-16zM47 169h2v1h-2zM50 169h1v1h-1zM63 169h1v1h-1zM71 169h1v1h-1zM19 170h1v1h-1zM22 170h1v1h-1zM28 170h15v1h-15zM44 170h1v1h-1zM46 170h1v1h-1zM48 170h1v1h-1zM50 170h1v1h-1zM20 171h2v1h-2zM30 171h2v1h-2zM33 171h11v1h-11zM45 171h1v1h-1zM53 171h1v1h-1zM55 171h1v1h-1zM22 172h1v1h-1zM33 172h1v1h-1zM36 172h4v1h-4zM42 172h5v1h-5zM50 172h2v1h-2zM55 172h2v1h-2zM24 173h1v1h-1zM33 173h3v1h-3zM37 173h3v1h-3zM41 173h1v1h-1zM43 173h2v1h-2zM47 173h1v1h-1zM14 174h1v1h-1zM21 174h1v1h-1zM27 174h1v1h-1zM30 174h2v1h-2zM36 174h1v1h-1zM39 174h4v1h-4zM26 175h1v1h-1zM30 175h1v1h-1zM32 175h1v1h-1zM35 175h1v1h-1zM43 175h1v1h-1zM45 175h2v1h-2zM49 175h3v1h-3zM24 176h1v1h-1zM40 176h1v1h-1zM44 176h2v1h-2zM54 176h1v1h-1zM61 176h1v1h-1zM36 177h1v1h-1zM56 177h1v1h-1zM31 178h1v1h-1zM33 178h1v1h-1zM35 178h1v1h-1zM37 178h1v1h-1zM39 178h2v1h-2zM24 179h1v1h-1zM28 179h1v1h-1zM45 179h1v1h-1zM23 180h1v1h-1zM29 180h1v1h-1zM41 180h1v1h-1zM43 180h1v1h-1zM20 181h2v1h-2zM37 181h1v1h-1zM42 182h1v1h-1zM43 185h1v1h-1zM67 185h1v1h-1zM68 186h1v1h-1zM47 188h1v1h-1z"/>
<rect x="105.7" y="92.15" width="498.4" height="498.25" fill="none" stroke="#181818" stroke-width="2.9"/>
<path d="M108 591v12.6M104.5 587.6h-12.8M145.07 591v7.6M104.5 550.53h-7.3M166.76 591v7.6M104.5 528.84h-7.3M182.14 591v7.6M104.5 513.46h-7.3M194.08 591v7.6M104.5 501.52h-7.3M203.83 591v7.6M104.5 491.77h-7.3M212.07 591v7.6M104.5 483.53h-7.3M219.22 591v7.6M104.5 476.38h-7.3M225.51 591v7.6M104.5 470.09h-7.3M231.15 591v12.6M104.5 464.45h-12.8M268.22 591v7.6M104.5 427.38h-7.3M289.91 591v7.6M104.5 405.69h-7.3M305.29 591v7.6M104.5 390.31h-7.3M317.23 591v7.6M104.5 378.37h-7.3M326.98 591v7.6M104.5 368.62h-7.3M335.22 591v7.6M104.5 360.38h-7.3M342.37 591v7.6M104.5 353.23h-7.3M348.66 591v7.6M104.5 346.94h-7.3M354.3 591v12.6M104.5 341.3h-12.8M391.37 591v7.6M104.5 304.23h-7.3M413.06 591v7.6M104.5 282.54h-7.3M428.44 591v7.6M104.5 267.16h-7.3M440.38 591v7.6M104.5 255.22h-7.3M450.13 591v7.6M104.5 245.47h-7.3M458.37 591v7.6M104.5 237.23h-7.3M465.52 591v7.6M104.5 230.08h-7.3M471.81 591v7.6M104.5 223.79h-7.3M477.45 591v12.6M104.5 218.15h-12.8M514.52 591v7.6M104.5 181.08h-7.3M536.21 591v7.6M104.5 159.39h-7.3M551.59 591v7.6M104.5 144.01h-7.3M563.53 591v7.6M104.5 132.07h-7.3M573.28 591v7.6M104.5 122.32h-7.3M581.52 591v7.6M104.5 114.08h-7.3M588.67 591v7.6M104.5 106.93h-7.3M594.96 591v7.6M104.5 100.64h-7.3M600.6 591v12.6M104.5 95h-12.8" stroke="#1c1c1c" stroke-width="2.2" fill="none"/>
<text x="105.4" y="637.4" font-size="36" fill="#1c1c26" text-anchor="middle" textLength="22.5" lengthAdjust="spacingAndGlyphs">0</text>
<text x="88" y="598.2" font-size="36" fill="#1c1c26" text-anchor="end" textLength="21.5" lengthAdjust="spacingAndGlyphs">0</text>
<text x="228.55" y="637.4" font-size="36" fill="#1c1c26" text-anchor="middle" textLength="22.5" lengthAdjust="spacingAndGlyphs">1</text>
<text x="88" y="475.05" font-size="36" fill="#1c1c26" text-anchor="end" textLength="21.5" lengthAdjust="spacingAndGlyphs">1</text>
<text x="351.7" y="637.4" font-size="36" fill="#1c1c26" text-anchor="middle" textLength="22.5" lengthAdjust="spacingAndGlyphs">2</text>
<text x="88" y="351.9" font-size="36" fill="#1c1c26" text-anchor="end" textLength="21.5" lengthAdjust="spacingAndGlyphs">2</text>
<text x="474.85" y="637.4" font-size="36" fill="#1c1c26" text-anchor="middle" textLength="22.5" lengthAdjust="spacingAndGlyphs">3</text>
<text x="88" y="228.75" font-size="36" fill="#1c1c26" text-anchor="end" textLength="21.5" lengthAdjust="spacingAndGlyphs">3</text>
<text x="598" y="637.4" font-size="36" fill="#1c1c26" text-anchor="middle" textLength="22.5" lengthAdjust="spacingAndGlyphs">4</text>
<text x="88" y="105.6" font-size="36" fill="#1c1c26" text-anchor="end" textLength="21.5" lengthAdjust="spacingAndGlyphs">4</text>
<text x="172" y="78" font-size="36" fill="#1c1c26" textLength="364" lengthAdjust="spacingAndGlyphs">APOPTOSIS PROFILE</text>
<text x="114.6" y="132.5" font-size="33" fill="#1c1c26" textLength="76.5" lengthAdjust="spacingAndGlyphs">Dead</text>
<text x="116.5" y="174.8" font-size="33" fill="#1c1c26">13.14 %</text>
<text x="593.5" y="132.4" font-size="33" fill="#1c1c26" text-anchor="end" textLength="241" lengthAdjust="spacingAndGlyphs">Late Apop./Dead</text>
<text x="593.5" y="174.8" font-size="33" fill="#1c1c26" text-anchor="end">34.84 %</text>
<text x="116.5" y="531.6" font-size="33" fill="#1c1c26">50.52 %</text>
<text x="115.5" y="573.7" font-size="33" fill="#1c1c26">Live</text>
<text x="593.5" y="531.6" font-size="33" fill="#1c1c26" text-anchor="end">1.50 %</text>
<text x="593.5" y="573.7" font-size="33" fill="#1c1c26" text-anchor="end" textLength="166" lengthAdjust="spacingAndGlyphs">Early Apop.</text>
<text x="259" y="685" font-size="36" fill="#1c1c26" textLength="188" lengthAdjust="spacingAndGlyphs">ANNEXIN V</text>
<text x="104.5" y="682.4" font-size="29.5" fill="#74747e" textLength="56" lengthAdjust="spacingAndGlyphs">Live</text>
<text x="484" y="682.4" font-size="29.5" fill="#74747e" textLength="120" lengthAdjust="spacingAndGlyphs">Apoptotic</text>
<text transform="translate(34.6,337) rotate(-90)" font-size="36" fill="#1c1c26" text-anchor="middle" textLength="158" lengthAdjust="spacingAndGlyphs">VIABILITY</text>
</g>
<g transform="translate(1386.5,0)">
<rect x="106" y="427.2" width="184.4" height="162.7" fill="#eaf1cf"/>
<path d="M290.35 93V590M106.5 427.2H603.5" stroke="#ff3535" stroke-width="5.8" stroke-opacity="0.3" fill="none"/>
<path d="M290.35 93V590M106.5 427.2H603.5" stroke="#ff3535" stroke-width="3.9" fill="none"/>
<path transform="translate(107.4,93.9) scale(2.5)" fill="#ff0000" stroke="#ff0000" stroke-width="0.12" stroke-linejoin="round" d="M168 42h1v1h-1zM162 46h1v1h-1zM164 46h1v1h-1zM164 48h1v1h-1zM154 53h1v1h-1zM161 53h1v1h-1zM158 58h1v1h-1zM143 63h1v1h-1zM152 63h1v1h-1zM147 64h1v1h-1zM150 64h1v1h-1zM107 65h1v1h-1zM107 66h1v1h-1zM112 68h1v1h-1zM144 68h1v1h-1zM111 70h1v1h-1zM96 73h1v1h-1zM135 73h1v1h-1zM90 74h1v1h-1zM137 74h1v1h-1zM108 75h2v1h-2zM142 75h1v1h-1zM118 76h1v1h-1zM141 76h1v1h-1zM91 77h1v1h-1zM107 77h1v1h-1zM113 77h1v1h-1zM110 78h1v1h-1zM97 80h1v1h-1zM84 81h1v1h-1zM100 81h1v1h-1zM117 82h1v1h-1zM95 83h1v1h-1zM101 83h1v1h-1zM104 83h1v1h-1zM116 83h1v1h-1zM137 83h1v1h-1zM92 84h1v1h-1zM100 84h1v1h-1zM106 84h2v1h-2zM135 84h1v1h-1zM85 85h1v1h-1zM98 85h1v1h-1zM104 85h2v1h-2zM108 85h1v1h-1zM117 85h1v1h-1zM108 86h1v1h-1zM128 86h1v1h-1zM96 87h1v1h-1zM111 87h1v1h-1zM115 87h1v1h-1zM121 87h1v1h-1zM127 87h1v1h-1zM131 87h1v1h-1zM99 88h1v1h-1zM103 88h1v1h-1zM98 89h1v1h-1zM113 89h1v1h-1zM125 89h1v1h-1zM66 90h1v1h-1zM96 90h1v1h-1zM108 90h2v1h-2zM121 90h1v1h-1zM124 90h1v1h-1zM66 91h1v1h-1zM87 91h1v1h-1zM121 91h3v1h-3zM87 92h1v1h-1zM97 92h1v1h-1zM106 92h1v1h-1zM108 92h1v1h-1zM115 92h1v1h-1zM120 92h2v1h-2zM124 92h1v1h-1zM94 93h1v1h-1zM117 93h1v1h-1zM120 93h3v1h-3zM64 94h1v1h-1zM89 94h1v1h-1zM94 94h1v1h-1zM97 94h1v1h-1zM99 94h1v1h-1zM102 94h1v1h-1zM107 94h1v1h-1zM118 94h5v1h-5zM65 95h1v1h-1zM102 95h1v1h-1zM108 95h1v1h-1zM117 95h5v1h-5zM87 96h1v1h-1zM89 96h1v1h-1zM97 96h1v1h-1zM115 96h7v1h-7zM88 97h1v1h-1zM94 97h1v1h-1zM99 97h2v1h-2zM103 97h1v1h-1zM109 97h1v1h-1zM115 97h6v1h-6zM73 98h1v1h-1zM79 98h1v1h-1zM92 98h1v1h-1zM97 98h1v1h-1zM101 98h1v1h-1zM113 98h6v1h-6zM91 99h1v1h-1zM97 99h1v1h-1zM102 99h1v1h-1zM106 99h1v1h-1zM111 99h1v1h-1zM113 99h6v1h-6zM94 100h1v1h-1zM97 100h2v1h-2zM100 100h1v1h-1zM102 100h1v1h-1zM104 100h1v1h-1zM112 100h6v1h-6zM135 100h1v1h-1zM65 101h1v1h-1zM85 101h1v1h-1zM95 101h1v1h-1zM98 101h1v1h-1zM105 101h1v1h-1zM107 101h1v1h-1zM110 101h6v1h-6zM83 102h1v1h-1zM95 102h1v1h-1zM99 102h2v1h-2zM110 102h6v1h-6zM78 103h1v1h-1zM84 103h1v1h-1zM98 103h1v1h-1zM109 103h8v1h-8zM91 104h1v1h-1zM101 104h1v1h-1zM103 104h1v1h-1zM106 104h1v1h-1zM108 104h6v1h-6zM104 105h1v1h-1zM106 105h1v1h-1zM108 105h6v1h-6zM92 106h1v1h-1zM100 106h1v1h-1zM102 106h1v1h-1zM105 106h8v1h-8zM91 107h1v1h-1zM105 107h7v1h-7zM72 108h1v1h-1zM84 108h1v1h-1zM86 108h1v1h-1zM90 108h1v1h-1zM94 108h1v1h-1zM102 108h1v1h-1zM104 108h6v1h-6zM111 108h1v1h-1zM113 108h1v1h-1zM95 109h1v1h-1zM97 109h1v1h-1zM100 109h2v1h-2zM103 109h8v1h-8zM70 110h1v1h-1zM83 110h1v1h-1zM98 110h1v1h-1zM100 110h9v1h-9zM115 110h1v1h-1zM81 111h1v1h-1zM89 111h1v1h-1zM93 111h1v1h-1zM98 111h10v1h-10zM110 111h2v1h-2zM69 112h1v1h-1zM85 112h2v1h-2zM94 112h1v1h-1zM96 112h13v1h-13zM94 113h2v1h-2zM97 113h12v1h-12zM91 114h1v1h-1zM96 114h11v1h-11zM71 115h1v1h-1zM90 115h2v1h-2zM94 115h2v1h-2zM97 115h9v1h-9zM95 116h11v1h-11zM112 116h1v1h-1zM90 117h1v1h-1zM93 117h11v1h-11zM107 117h1v1h-1zM88 118h1v1h-1zM92 118h11v1h-11zM105 118h1v1h-1zM91 119h12v1h-12zM104 119h1v1h-1zM84 120h1v1h-1zM89 120h14v1h-14zM104 120h1v1h-1zM110 120h1v1h-1zM89 121h12v1h-12zM65 122h1v1h-1zM71 122h1v1h-1zM85 122h1v1h-1zM87 122h13v1h-13zM108 122h1v1h-1zM87 123h13v1h-13zM87 124h12v1h-12zM65 125h2v1h-2zM84 125h1v1h-1zM86 125h13v1h-13zM83 126h1v1h-1zM85 126h11v1h-11zM97 126h1v1h-1zM81 127h2v1h-2zM84 127h12v1h-12zM97 127h1v1h-1zM77 128h1v1h-1zM80 128h1v1h-1zM82 128h13v1h-13zM96 128h3v1h-3zM100 128h1v1h-1zM81 129h14v1h-14zM99 129h1v1h-1zM64 130h1v1h-1zM81 130h13v1h-13zM96 130h2v1h-2zM102 130h1v1h-1zM79 131h13v1h-13zM96 131h1v1h-1zM78 132h13v1h-13zM93 132h1v1h-1zM96 132h1v1h-1zM79 133h12v1h-12zM95 133h1v1h-1zM74 134h1v1h-1zM78 134h10v1h-10zM89 134h1v1h-1zM92 134h1v1h-1zM76 135h12v1h-12zM77 136h10v1h-10zM76 137h9v1h-9zM86 137h1v1h-1zM73 138h1v1h-1zM75 138h10v1h-10zM89 138h1v1h-1zM74 139h9v1h-9zM85 139h1v1h-1zM92 139h1v1h-1zM73 140h9v1h-9zM83 140h1v1h-1zM72 141h9v1h-9zM73 142h7v1h-7zM86 142h1v1h-1zM73 143h6v1h-6zM95 143h1v1h-1zM73 144h4v1h-4zM73 145h4v1h-4zM92 145h1v1h-1zM73 146h1v1h-1zM75 146h1v1h-1zM77 146h1v1h-1zM73 147h1v1h-1zM74 148h1v1h-1zM72 150h1v1h-1zM114 152h1v1h-1z"/>
<path transform="translate(107.4,93.9) scale(2.5)" fill="#e92c00" stroke="#e92c00" stroke-width="0.12" stroke-linejoin="round" d="M64 136h1v1h-1zM48 138h1v1h-1zM55 138h1v1h-1zM49 139h1v1h-1zM57 140h1v1h-1zM63 140h1v1h-1zM57 141h1v1h-1zM70 141h1v1h-1zM48 142h1v1h-1zM53 142h1v1h-1zM55 142h1v1h-1zM62 142h1v1h-1zM67 142h1v1h-1zM69 142h3v1h-3zM44 143h1v1h-1zM46 143h1v1h-1zM57 143h3v1h-3zM62 143h1v1h-1zM64 143h1v1h-1zM66 143h2v1h-2zM54 144h1v1h-1zM59 144h1v1h-1zM62 144h1v1h-1zM64 144h3v1h-3zM68 144h4v1h-4zM35 145h1v1h-1zM48 145h1v1h-1zM51 145h1v1h-1zM53 145h1v1h-1zM57 145h1v1h-1zM63 145h2v1h-2zM66 145h1v1h-1zM68 145h4v1h-4zM54 146h1v1h-1zM58 146h1v1h-1zM60 146h5v1h-5zM66 146h4v1h-4zM50 147h1v1h-1zM52 147h1v1h-1zM54 147h1v1h-1zM61 147h7v1h-7zM69 147h2v1h-2zM40 148h1v1h-1zM51 148h1v1h-1zM53 148h1v1h-1zM56 148h1v1h-1zM59 148h1v1h-1zM61 148h8v1h-8zM70 148h2v1h-2zM46 149h1v1h-1zM50 149h1v1h-1zM52 149h1v1h-1zM54 149h1v1h-1zM57 149h1v1h-1zM59 149h4v1h-4zM64 149h1v1h-1zM66 149h4v1h-4zM45 150h1v1h-1zM47 150h1v1h-1zM55 150h1v1h-1zM57 150h6v1h-6zM65 150h3v1h-3zM69 150h2v1h-2zM29 151h1v1h-1zM43 151h1v1h-1zM46 151h1v1h-1zM51 151h2v1h-2zM54 151h2v1h-2zM62 151h2v1h-2zM67 151h4v1h-4zM37 152h1v1h-1zM48 152h5v1h-5zM55 152h1v1h-1zM58 152h1v1h-1zM60 152h1v1h-1zM63 152h3v1h-3zM69 152h1v1h-1zM35 153h2v1h-2zM40 153h2v1h-2zM45 153h2v1h-2zM50 153h3v1h-3zM56 153h1v1h-1zM58 153h3v1h-3zM69 153h1v1h-1zM40 154h1v1h-1zM42 154h1v1h-1zM47 154h3v1h-3zM51 154h2v1h-2zM54 154h1v1h-1zM57 154h2v1h-2zM61 154h1v1h-1zM63 154h1v1h-1zM31 155h2v1h-2zM41 155h1v1h-1zM44 155h8v1h-8zM54 155h2v1h-2zM59 155h1v1h-1zM31 156h1v1h-1zM34 156h1v1h-1zM38 156h2v1h-2zM41 156h1v1h-1zM46 156h2v1h-2zM49 156h1v1h-1zM52 156h2v1h-2zM55 156h1v1h-1zM69 156h1v1h-1zM32 157h1v1h-1zM37 157h1v1h-1zM53 157h1v1h-1zM63 157h1v1h-1zM67 157h1v1h-1zM36 158h1v1h-1zM43 158h2v1h-2zM49 158h4v1h-4zM55 158h1v1h-1zM32 159h1v1h-1zM42 159h1v1h-1zM47 159h1v1h-1zM49 159h2v1h-2zM61 159h1v1h-1zM28 160h1v1h-1zM33 160h1v1h-1zM35 160h1v1h-1zM37 160h1v1h-1zM39 160h1v1h-1zM53 160h2v1h-2zM30 161h1v1h-1zM33 161h1v1h-1zM37 161h1v1h-1zM40 161h3v1h-3zM44 161h1v1h-1zM48 161h3v1h-3zM33 162h1v1h-1zM35 162h2v1h-2zM39 162h2v1h-2zM42 162h3v1h-3zM46 162h1v1h-1zM51 162h1v1h-1zM57 162h1v1h-1zM33 163h1v1h-1zM35 163h1v1h-1zM41 163h1v1h-1zM46 163h3v1h-3zM51 163h2v1h-2zM35 164h1v1h-1zM42 164h2v1h-2zM48 164h1v1h-1zM30 165h1v1h-1zM37 165h1v1h-1zM39 165h1v1h-1zM44 165h1v1h-1zM36 166h1v1h-1zM42 166h1v1h-1zM46 166h1v1h-1zM51 166h1v1h-1zM32 167h1v1h-1zM34 167h1v1h-1zM43 167h1v1h-1zM28 168h1v1h-1zM39 168h1v1h-1zM44 168h1v1h-1zM46 168h1v1h-1zM26 169h1v1h-1zM31 169h1v1h-1zM37 169h1v1h-1zM40 169h1v1h-1zM31 170h1v1h-1zM37 170h1v1h-1zM42 170h2v1h-2zM30 171h2v1h-2zM36 171h1v1h-1zM36 172h1v1h-1zM42 172h1v1h-1zM31 173h1v1h-1zM48 173h1v1h-1zM38 174h1v1h-1zM30 175h1v1h-1zM37 175h1v1h-1zM29 176h1v1h-1zM31 176h1v1h-1zM38 176h1v1h-1zM41 176h1v1h-1zM39 177h1v1h-1zM36 178h1v1h-1zM29 181h1v1h-1zM28 183h1v1h-1z"/>
<rect x="105.7" y="92.15" width="498.4" height="498.25" fill="none" stroke="#181818" stroke-width="2.9"/>
<path d="M108 591v12.6M104.5 587.6h-12.8M145.07 591v7.6M104.5 550.53h-7.3M166.76 591v7.6M104.5 528.84h-7.3M182.14 591v7.6M104.5 513.46h-7.3M194.08 591v7.6M104.5 501.52h-7.3M203.83 591v7.6M104.5 491.77h-7.3M212.07 591v7.6M104.5 483.53h-7.3M219.22 591v7.6M104.5 476.38h-7.3M225.51 591v7.6M104.5 470.09h-7.3M231.15 591v12.6M104.5 464.45h-12.8M268.22 591v7.6M104.5 427.38h-7.3M289.91 591v7.6M104.5 405.69h-7.3M305.29 591v7.6M104.5 390.31h-7.3M317.23 591v7.6M104.5 378.37h-7.3M326.98 591v7.6M104.5 368.62h-7.3M335.22 591v7.6M104.5 360.38h-7.3M342.37 591v7.6M104.5 353.23h-7.3M348.66 591v7.6M104.5 346.94h-7.3M354.3 591v12.6M104.5 341.3h-12.8M391.37 591v7.6M104.5 304.23h-7.3M413.06 591v7.6M104.5 282.54h-7.3M428.44 591v7.6M104.5 267.16h-7.3M440.38 591v7.6M104.5 255.22h-7.3M450.13 591v7.6M104.5 245.47h-7.3M458.37 591v7.6M104.5 237.23h-7.3M465.52 591v7.6M104.5 230.08h-7.3M471.81 591v7.6M104.5 223.79h-7.3M477.45 591v12.6M104.5 218.15h-12.8M514.52 591v7.6M104.5 181.08h-7.3M536.21 591v7.6M104.5 159.39h-7.3M551.59 591v7.6M104.5 144.01h-7.3M563.53 591v7.6M104.5 132.07h-7.3M573.28 591v7.6M104.5 122.32h-7.3M581.52 591v7.6M104.5 114.08h-7.3M588.67 591v7.6M104.5 106.93h-7.3M594.96 591v7.6M104.5 100.64h-7.3M600.6 591v12.6M104.5 95h-12.8" stroke="#1c1c1c" stroke-width="2.2" fill="none"/>
<text x="105.4" y="637.4" font-size="36" fill="#1c1c26" text-anchor="middle" textLength="22.5" lengthAdjust="spacingAndGlyphs">0</text>
<text x="88" y="598.2" font-size="36" fill="#1c1c26" text-anchor="end" textLength="21.5" lengthAdjust="spacingAndGlyphs">0</text>
<text x="228.55" y="637.4" font-size="36" fill="#1c1c26" text-anchor="middle" textLength="22.5" lengthAdjust="spacingAndGlyphs">1</text>
<text x="88" y="475.05" font-size="36" fill="#1c1c26" text-anchor="end" textLength="21.5" lengthAdjust="spacingAndGlyphs">1</text>
<text x="351.7" y="637.4" font-size="36" fill="#1c1c26" text-anchor="middle" textLength="22.5" lengthAdjust="spacingAndGlyphs">2</text>
<text x="88" y="351.9" font-size="36" fill="#1c1c26" text-anchor="end" textLength="21.5" lengthAdjust="spacingAndGlyphs">2</text>
<text x="474.85" y="637.4" font-size="36" fill="#1c1c26" text-anchor="middle" textLength="22.5" lengthAdjust="spacingAndGlyphs">3</text>
<text x="88" y="228.75" font-size="36" fill="#1c1c26" text-anchor="end" textLength="21.5" lengthAdjust="spacingAndGlyphs">3</text>
<text x="598" y="637.4" font-size="36" fill="#1c1c26" text-anchor="middle" textLength="22.5" lengthAdjust="spacingAndGlyphs">4</text>
<text x="88" y="105.6" font-size="36" fill="#1c1c26" text-anchor="end" textLength="21.5" lengthAdjust="spacingAndGlyphs">4</text>
<text x="172" y="78" font-size="36" fill="#1c1c26" textLength="364" lengthAdjust="spacingAndGlyphs">APOPTOSIS PROFILE</text>
<text x="114.6" y="132.5" font-size="33" fill="#1c1c26" textLength="76.5" lengthAdjust="spacingAndGlyphs">Dead</text>
<text x="116.5" y="174.8" font-size="33" fill="#1c1c26">0.30 %</text>
<text x="593.5" y="132.4" font-size="33" fill="#1c1c26" text-anchor="end" textLength="241" lengthAdjust="spacingAndGlyphs">Late Apop./Dead</text>
<text x="593.5" y="174.8" font-size="33" fill="#1c1c26" text-anchor="end">87.06 %</text>
<text x="116.5" y="531.6" font-size="33" fill="#1c1c26">6.98 %</text>
<text x="115.5" y="573.7" font-size="33" fill="#1c1c26">Live</text>
<text x="593.5" y="531.6" font-size="33" fill="#1c1c26" text-anchor="end">5.66 %</text>
<text x="593.5" y="573.7" font-size="33" fill="#1c1c26" text-anchor="end" textLength="166" lengthAdjust="spacingAndGlyphs">Early Apop.</text>
<text x="259" y="685" font-size="36" fill="#1c1c26" textLength="188" lengthAdjust="spacingAndGlyphs">ANNEXIN V</text>
<text x="104.5" y="682.4" font-size="29.5" fill="#74747e" textLength="56" lengthAdjust="spacingAndGlyphs">Live</text>
<text x="484" y="682.4" font-size="29.5" fill="#74747e" textLength="120" lengthAdjust="spacingAndGlyphs">Apoptotic</text>
<text transform="translate(34.6,337) rotate(-90)" font-size="36" fill="#1c1c26" text-anchor="middle" textLength="158" lengthAdjust="spacingAndGlyphs">VIABILITY</text>
</g>
<rect x="654.4" y="1387" width="52.3" height="71.5" fill="#050505"/>
<rect x="706.7" y="1366" width="52.3" height="92.5" fill="url(#hat)" stroke="#1a1a1a" stroke-width="2"/>
<rect x="759" y="1406.2" width="52.3" height="52.3" fill="#fff"/>
<path d="M777.04 1406.2V1458.5" stroke="#e4e4e4" stroke-width="1.0" fill="none"/>
<path d="M793.69 1406.2V1458.5M759 1433.95H811.3M759 1439.5H811.3M759 1450.6H811.3M759 1456.15H811.3" stroke="#c8c8c8" stroke-width="1.0" fill="none"/>
<path d="M782.59 1406.2V1458.5M799.24 1406.2V1458.5" stroke="#aaa" stroke-width="1.1" fill="none"/>
<path d="M759 1411.75H811.3" stroke="#777" stroke-width="1.15" fill="none"/>
<path d="M765.94 1406.2V1458.5M804.79 1406.2V1458.5M759 1417.3H811.3M759 1422.85H811.3" stroke="#2a2a2a" stroke-width="1.45" fill="none"/>
<path d="M771.49 1406.2V1458.5M788.14 1406.2V1458.5M759 1428.4H811.3M759 1445.05H811.3" stroke="#111" stroke-width="1.7" fill="none"/>
<rect x="759.5" y="1407.2" width="51.8" height="51.3" fill="none" stroke="#111" stroke-width="2.2"/>
<rect x="850.1" y="1390" width="52.3" height="68.5" fill="#050505"/>
<rect x="902.4" y="1251.6" width="52.3" height="206.9" fill="url(#hat)" stroke="#1a1a1a" stroke-width="2"/>
<rect x="954.7" y="945" width="52.3" height="513.5" fill="#fff"/>
<path d="M967.19 945V1458.5" stroke="#e4e4e4" stroke-width="1.0" fill="none"/>
<path d="M983.84 945V1458.5M954.7 950.55H1007M954.7 961.65H1007M954.7 967.2H1007M954.7 983.85H1007M954.7 1050.45H1007M954.7 1056H1007M954.7 1067.1H1007M954.7 1072.65H1007M954.7 1089.3H1007M954.7 1155.9H1007M954.7 1161.45H1007M954.7 1172.55H1007M954.7 1178.1H1007M954.7 1194.75H1007M954.7 1261.35H1007M954.7 1266.9H1007M954.7 1278H1007M954.7 1283.55H1007M954.7 1300.2H1007M954.7 1366.8H1007M954.7 1372.35H1007M954.7 1383.45H1007M954.7 1389H1007M954.7 1405.65H1007" stroke="#c8c8c8" stroke-width="1.0" fill="none"/>
<path d="M972.74 945V1458.5M989.39 945V1458.5M954.7 1011.6H1007M954.7 1117.05H1007M954.7 1222.5H1007M954.7 1327.95H1007M954.7 1433.4H1007" stroke="#aaa" stroke-width="1.1" fill="none"/>
<path d="M954.7 1028.25H1007M954.7 1133.7H1007M954.7 1239.15H1007M954.7 1344.6H1007M954.7 1450.05H1007" stroke="#777" stroke-width="1.15" fill="none"/>
<path d="M954.7 994.95H1007M954.7 1000.5H1007M954.7 1006.05H1007M954.7 1100.4H1007M954.7 1105.95H1007M954.7 1111.5H1007M954.7 1205.85H1007M954.7 1211.4H1007M954.7 1216.95H1007M954.7 1311.3H1007M954.7 1316.85H1007M954.7 1322.4H1007M954.7 1416.75H1007M954.7 1422.3H1007M954.7 1427.85H1007" stroke="#555" stroke-width="1.25" fill="none"/>
<path d="M994.94 945V1458.5M1000.49 945V1458.5M954.7 978.3H1007M954.7 989.4H1007M954.7 1017.15H1007M954.7 1033.8H1007M954.7 1039.35H1007M954.7 1083.75H1007M954.7 1094.85H1007M954.7 1122.6H1007M954.7 1139.25H1007M954.7 1144.8H1007M954.7 1189.2H1007M954.7 1200.3H1007M954.7 1228.05H1007M954.7 1244.7H1007M954.7 1250.25H1007M954.7 1294.65H1007M954.7 1305.75H1007M954.7 1333.5H1007M954.7 1350.15H1007M954.7 1355.7H1007M954.7 1400.1H1007M954.7 1411.2H1007M954.7 1438.95H1007M954.7 1455.6H1007" stroke="#2a2a2a" stroke-width="1.45" fill="none"/>
<path d="M961.64 945V1458.5M978.29 945V1458.5M954.7 956.1H1007M954.7 972.75H1007M954.7 1022.7H1007M954.7 1044.9H1007M954.7 1061.55H1007M954.7 1078.2H1007M954.7 1128.15H1007M954.7 1150.35H1007M954.7 1167H1007M954.7 1183.65H1007M954.7 1233.6H1007M954.7 1255.8H1007M954.7 1272.45H1007M954.7 1289.1H1007M954.7 1339.05H1007M954.7 1361.25H1007M954.7 1377.9H1007M954.7 1394.55H1007M954.7 1444.5H1007" stroke="#111" stroke-width="1.7" fill="none"/>
<rect x="955.2" y="946" width="51.8" height="512.5" fill="none" stroke="#111" stroke-width="2.2"/>
<rect x="1045.8" y="1402.5" width="52.3" height="56" fill="#050505"/>
<rect x="1098.1" y="1404.7" width="52.3" height="53.8" fill="url(#hat)" stroke="#1a1a1a" stroke-width="2"/>
<rect x="1150.4" y="1375.3" width="52.3" height="83.2" fill="#fff"/>
<path d="M1157.34 1375.3V1458.5" stroke="#e4e4e4" stroke-width="1.0" fill="none"/>
<path d="M1173.99 1375.3V1458.5M1150.4 1386.4H1202.7M1150.4 1453H1202.7" stroke="#c8c8c8" stroke-width="1.0" fill="none"/>
<path d="M1162.89 1375.3V1458.5M1179.54 1375.3V1458.5M1150.4 1414.15H1202.7" stroke="#aaa" stroke-width="1.1" fill="none"/>
<path d="M1150.4 1430.8H1202.7" stroke="#777" stroke-width="1.15" fill="none"/>
<path d="M1150.4 1397.5H1202.7M1150.4 1403.05H1202.7M1150.4 1408.6H1202.7" stroke="#555" stroke-width="1.25" fill="none"/>
<path d="M1185.09 1375.3V1458.5M1190.64 1375.3V1458.5M1150.4 1380.85H1202.7M1150.4 1391.95H1202.7M1150.4 1419.7H1202.7M1150.4 1436.35H1202.7M1150.4 1441.9H1202.7" stroke="#2a2a2a" stroke-width="1.45" fill="none"/>
<path d="M1168.44 1375.3V1458.5M1196.19 1375.3V1458.5M1150.4 1425.25H1202.7M1150.4 1447.45H1202.7" stroke="#111" stroke-width="1.7" fill="none"/>
<rect x="1150.9" y="1376.3" width="51.8" height="82.2" fill="none" stroke="#111" stroke-width="2.2"/>
<rect x="1241.5" y="927" width="52.3" height="531.5" fill="#050505"/>
<rect x="1293.8" y="1088.8" width="52.3" height="369.7" fill="url(#hat)" stroke="#1a1a1a" stroke-width="2"/>
<rect x="1346.1" y="1380.3" width="52.3" height="78.2" fill="#fff"/>
<path d="M1391.89 1380.3V1458.5" stroke="#e4e4e4" stroke-width="1.0" fill="none"/>
<path d="M1364.14 1380.3V1458.5M1346.1 1430.25H1398.4M1346.1 1435.8H1398.4M1346.1 1446.9H1398.4M1346.1 1452.45H1398.4" stroke="#c8c8c8" stroke-width="1.0" fill="none"/>
<path d="M1353.04 1380.3V1458.5M1369.69 1380.3V1458.5M1346.1 1391.4H1398.4" stroke="#aaa" stroke-width="1.1" fill="none"/>
<path d="M1346.1 1408.05H1398.4" stroke="#777" stroke-width="1.15" fill="none"/>
<path d="M1346.1 1385.85H1398.4" stroke="#555" stroke-width="1.25" fill="none"/>
<path d="M1375.24 1380.3V1458.5M1380.79 1380.3V1458.5M1346.1 1396.95H1398.4M1346.1 1413.6H1398.4M1346.1 1419.15H1398.4" stroke="#2a2a2a" stroke-width="1.45" fill="none"/>
<path d="M1358.59 1380.3V1458.5M1386.34 1380.3V1458.5M1346.1 1402.5H1398.4M1346.1 1424.7H1398.4M1346.1 1441.35H1398.4" stroke="#111" stroke-width="1.7" fill="none"/>
<rect x="1346.6" y="1381.3" width="51.8" height="77.2" fill="none" stroke="#111" stroke-width="2.2"/>
<path d="M680.5 1383.5V1387M677.5 1383.5h6" stroke="#999" stroke-width="1.35" fill="none"/>
<path d="M733 1338.4V1391.3M728 1338.4h10M728 1391.3h10" stroke="#333" stroke-width="1.35" fill="none"/>
<path d="M785.5 1405V1405M779.5 1405h12" stroke="#111" stroke-width="1.35" fill="none"/>
<path d="M876.5 1383V1390" stroke="#888" stroke-width="1.35" fill="none"/>
<path d="M929.8 1224.9V1276.8M924.8 1224.9h10M924.8 1276.8h10" stroke="#333" stroke-width="1.35" fill="none"/>
<path d="M980.7 940.7V949.6M975.2 940.7h11M975.2 949.6h11" stroke="#555" stroke-width="1.35" fill="none"/>
<path d="M1072 1401.5V1401.5M1067 1401.5h10" stroke="#111" stroke-width="1.35" fill="none"/>
<path d="M1124.7 1400.3V1405.7M1119.7 1400.3h10M1119.7 1405.7h10" stroke="#333" stroke-width="1.35" fill="none"/>
<path d="M1175.9 1371.6V1379M1170.4 1371.6h11M1170.4 1379h11" stroke="#444" stroke-width="1.35" fill="none"/>
<path d="M1268.2 923.9V927M1262.2 923.9h12" stroke="#333" stroke-width="1.35" fill="none"/>
<path d="M1320.1 1033.4V1142M1315.1 1033.4h10M1315.1 1142h10" stroke="#222" stroke-width="1.35" fill="none"/>
<path d="M1371.7 1371.6V1388.3M1366.2 1371.6h11M1366.2 1388.3h11" stroke="#444" stroke-width="1.35" fill="none"/>
<path d="M635.1 881.5V1461.5M628.4 1461.5H1418.2" stroke="#050505" stroke-width="7" stroke-linecap="round" fill="none"/>
<path d="M635 1407.8H620.5M635 1302.54H620.5M635 1197.28H620.5M635 1092.02H620.5M635 986.76H620.5M635 881.5H620.5M733 1461.5V1475M928 1461.5V1475M1124.2 1461.5V1475M1319.7 1461.5V1475" stroke="#050505" stroke-width="6.6" stroke-linecap="round" fill="none"/>
<path d="M635 1355.17H628M635 1249.91H628M635 1144.65H628M635 1039.39H628M635 934.13H628M634.6 1461.5V1468.2M830.4 1461.5V1468.2M1026.5 1461.5V1468.2M1222 1461.5V1468.2M1418 1461.5V1468.2" stroke="#050505" stroke-width="5.6" stroke-linecap="round" fill="none"/>
<text x="609.7" y="1416.8" font-size="30.8" fill="#050505" text-anchor="end" font-weight="bold" textLength="18.32" lengthAdjust="spacingAndGlyphs">0</text>
<text x="609.7" y="1311.54" font-size="30.8" fill="#050505" text-anchor="end" font-weight="bold" textLength="36.65" lengthAdjust="spacingAndGlyphs">20</text>
<text x="609.7" y="1206.28" font-size="30.8" fill="#050505" text-anchor="end" font-weight="bold" textLength="36.65" lengthAdjust="spacingAndGlyphs">40</text>
<text x="609.7" y="1101.02" font-size="30.8" fill="#050505" text-anchor="end" font-weight="bold" textLength="36.65" lengthAdjust="spacingAndGlyphs">60</text>
<text x="609.7" y="995.76" font-size="30.8" fill="#050505" text-anchor="end" font-weight="bold" textLength="36.65" lengthAdjust="spacingAndGlyphs">80</text>
<text x="609.7" y="890.5" font-size="30.8" fill="#050505" text-anchor="end" font-weight="bold" textLength="54.97" lengthAdjust="spacingAndGlyphs">100</text>
<text transform="translate(545.6,1194.7) rotate(-90)" font-size="36" font-weight="bold" fill="#050505" text-anchor="middle" textLength="129" lengthAdjust="spacingAndGlyphs">Cells %</text>
<text x="720.2" y="1511.3" font-size="30.8" fill="#050505" font-weight="bold" textLength="24.2" lengthAdjust="spacingAndGlyphs">D</text>
<text x="910.2" y="1511.3" font-size="30.8" fill="#050505" font-weight="bold" textLength="44.5" lengthAdjust="spacingAndGlyphs">LA</text>
<text x="1105.3" y="1511.3" font-size="30.8" fill="#050505" font-weight="bold" textLength="44.8" lengthAdjust="spacingAndGlyphs">EA</text>
<text x="1314" y="1511.3" font-size="30.8" fill="#050505" font-weight="bold" textLength="18.8" lengthAdjust="spacingAndGlyphs">L</text>
<text x="924" y="1559.7" font-size="35.3" fill="#050505" font-weight="bold" textLength="203" lengthAdjust="spacingAndGlyphs">HepG2 cells</text>
<text x="770" y="1399.9" font-size="42" fill="#050505" font-weight="bold" letter-spacing="3.3">**</text>
<text x="910.9" y="1227.6" font-size="42" fill="#050505" font-weight="bold" letter-spacing="3.3">**</text>
<text x="965" y="935.1" font-size="42" fill="#050505" font-weight="bold" letter-spacing="3.3">**</text>
<text x="1160.3" y="1370.5" font-size="42" fill="#050505" font-weight="bold" letter-spacing="3.3">**</text>
<text x="1305.7" y="1033.9" font-size="42" fill="#050505" font-weight="bold" letter-spacing="3.3">**</text>
<text x="1356.1" y="1362.3" font-size="42" fill="#050505" font-weight="bold" letter-spacing="3.3">**</text>
<rect x="1352.9" y="802" width="204" height="108" fill="#fff" stroke="#555" stroke-width="1.8"/>
<rect x="1360.1" y="804.4" width="63.6" height="31.6" fill="#050505"/>
<rect x="1360.9" y="841.4" width="62.2" height="29.4" fill="url(#hatL)" stroke="#2a2a2a" stroke-width="1.6"/>
<rect x="1361" y="876.2" width="62" height="29.8" fill="#fff"/>
<path d="M1367.94 876.2V906M1412.34 876.2V906" stroke="#e4e4e4" stroke-width="1.0" fill="none"/>
<path d="M1384.59 876.2V906M1361 887.3H1423" stroke="#c8c8c8" stroke-width="1.0" fill="none"/>
<path d="M1373.49 876.2V906M1390.14 876.2V906M1417.89 876.2V906" stroke="#aaa" stroke-width="1.1" fill="none"/>
<path d="M1361 898.4H1423M1361 903.95H1423" stroke="#555" stroke-width="1.25" fill="none"/>
<path d="M1395.69 876.2V906M1401.24 876.2V906M1361 881.75H1423M1361 892.85H1423" stroke="#2a2a2a" stroke-width="1.45" fill="none"/>
<path d="M1379.04 876.2V906M1406.79 876.2V906" stroke="#111" stroke-width="1.7" fill="none"/>
<rect x="1360.9" y="876.1" width="62.2" height="30" fill="none" stroke="#1a1a1a" stroke-width="1.7"/>
<text x="1431.3" y="829.7" font-size="26.5" fill="#0a0a0a" textLength="87.5" lengthAdjust="spacingAndGlyphs">control</text>
<text x="1431.3" y="864.7" font-size="26.5" fill="#0a0a0a" textLength="111.5" lengthAdjust="spacingAndGlyphs">150µgml</text>
<text x="1431.3" y="899.8" font-size="26.5" fill="#0a0a0a" textLength="111.5" lengthAdjust="spacingAndGlyphs">300µgml</text>
</svg></body></html>
